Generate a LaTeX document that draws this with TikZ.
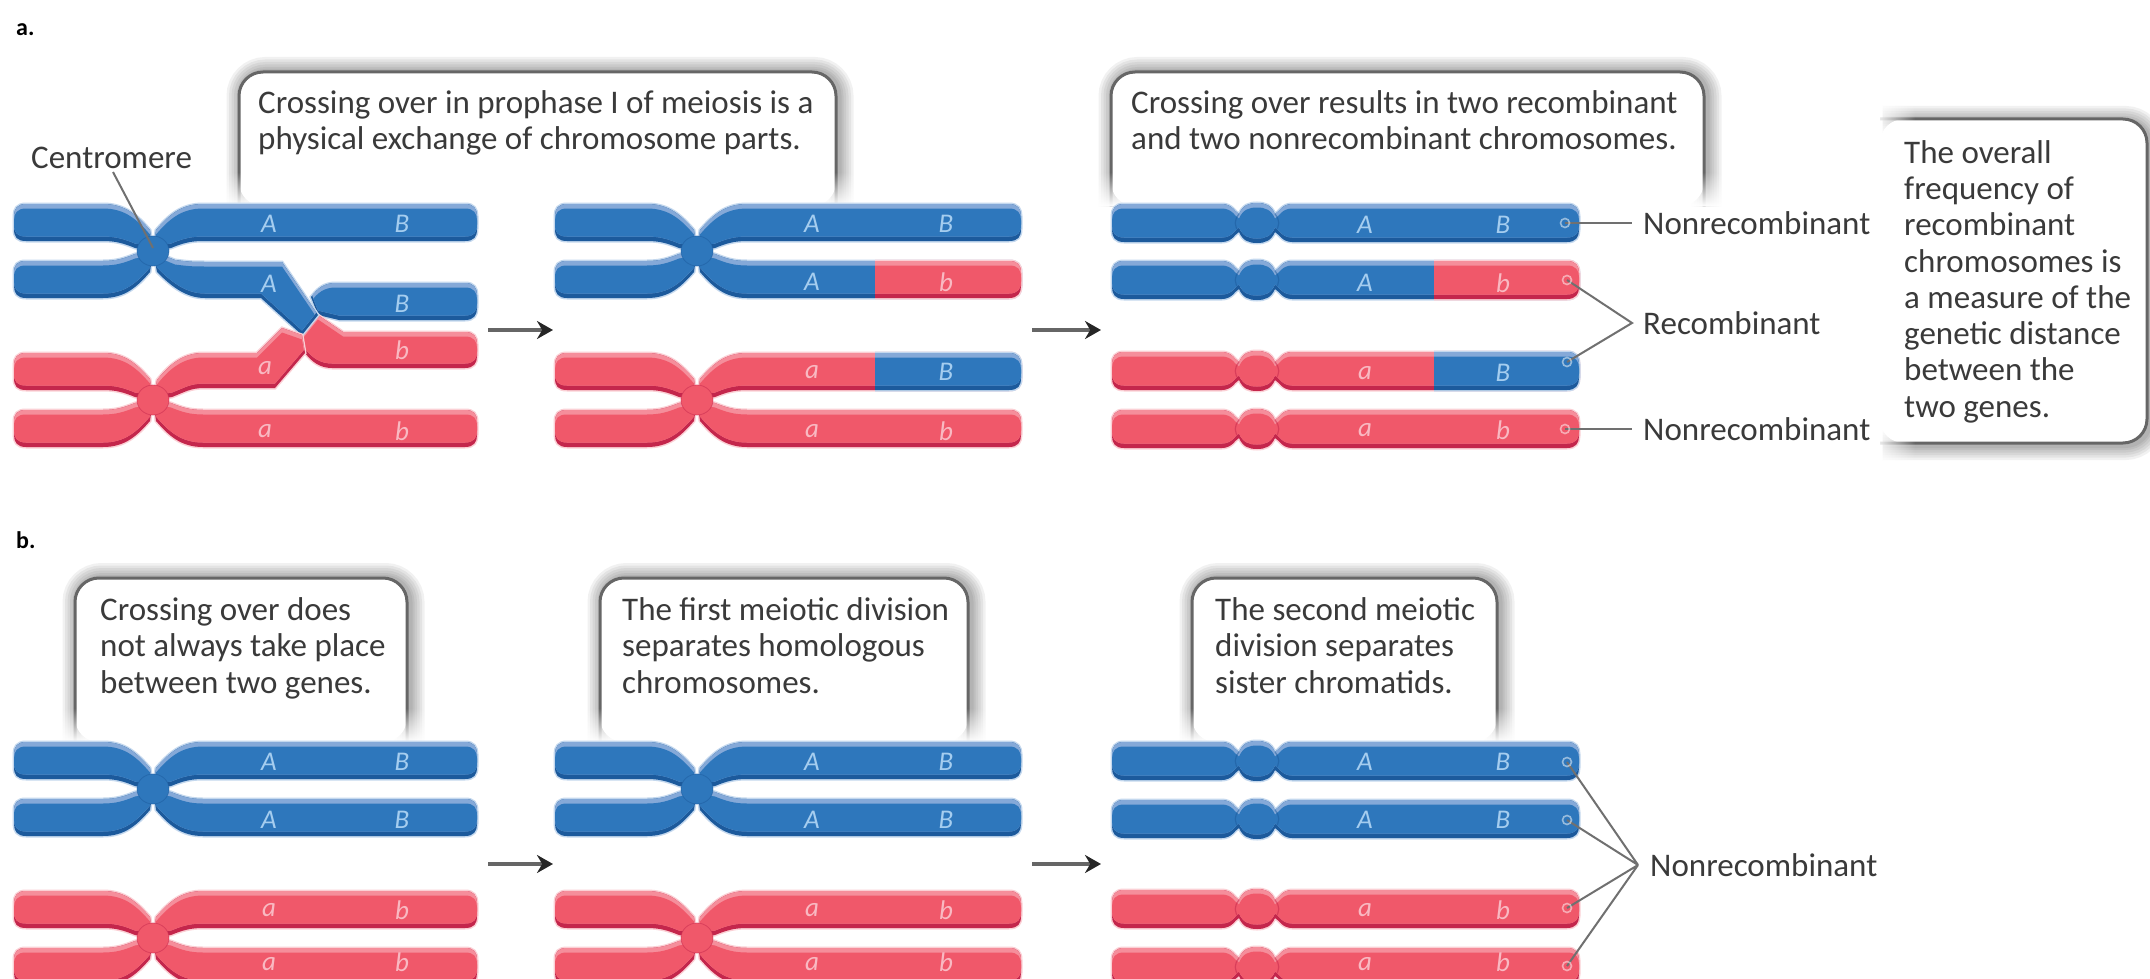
\documentclass[tikz,border=0pt]{standalone}
\usepackage{fontspec}
\setmainfont{Carlito}
\usetikzlibrary{arrows.meta,fadings}
\definecolor{chromB}{HTML}{2E77BC}
\definecolor{chromBl}{HTML}{85A9D8}
\definecolor{chromBd}{HTML}{1C5A9C}
\definecolor{chromBh}{HTML}{C4D8EE}
\definecolor{chromR}{HTML}{F0586A}
\definecolor{chromRl}{HTML}{F58E9B}
\definecolor{chromRd}{HTML}{C4264C}
\definecolor{chromRh}{HTML}{FBD0D5}
\definecolor{labB}{HTML}{A5CDEF}
\definecolor{labR}{HTML}{F9B9C2}
\definecolor{inkc}{HTML}{3A3A3A}
\definecolor{boxline}{HTML}{666666}
\definecolor{leader}{HTML}{707070}

% Chromatid with a pale upper edge and a dark lower edge
\newcommand\banded[3]{%
  \draw[draw=#3h,line width=3pt,#1] #2;
  \begin{scope}
    \clip[#1] #2;
    \fill[#3d] (-100,-100) rectangle (2300,1100);
    \begin{scope}[yshift=4.5pt]
      \clip[#1] #2;
      \fill[#3l] (-100,-100) rectangle (2300,1100);
      \begin{scope}[yshift=-9pt]
        \fill[#3,#1] #2;
      \end{scope}
    \end{scope}
  \end{scope}}

% One arm of an X-shaped pair, in local coordinates around the centromere
\newcommand\armpath[1]{(0,0) -- (3,21) .. controls (16,36) and (28,47) .. (50,47)
  -- (#1-12,47) .. controls (#1-3,47) and (#1,42) .. (#1,35) -- (#1,22)
  .. controls (#1,14) and (#1-3,10) .. (#1-12,10) -- (50,10)
  .. controls (38,10) and (30,8) .. (18,3) -- cycle}

% Single condensed chromatid with a centromere bulge
\newcommand\rodpath[4]{(#3+12,#2) -- (#1-35,#2) .. controls (#1-25,#2) and (#1-22,#2+8) .. (#1-18,#2+10)
  .. controls (#1-14,#2+1) and (#1-8,#2-1) .. (#1,#2-1) .. controls (#1+8,#2-1) and (#1+14,#2+1) .. (#1+18,#2+10)
  .. controls (#1+22,#2+8) and (#1+25,#2) .. (#1+35,#2) -- (#4-12,#2)
  .. controls (#4-3,#2) and (#4,#2+5) .. (#4,#2+12) -- (#4,#2+26)
  .. controls (#4,#2+33) and (#4-3,#2+38) .. (#4-12,#2+38) -- (#1+35,#2+38)
  .. controls (#1+25,#2+38) and (#1+22,#2+30) .. (#1+18,#2+28)
  .. controls (#1+14,#2+37) and (#1+8,#2+39) .. (#1,#2+39) .. controls (#1-8,#2+39) and (#1-14,#2+37) .. (#1-18,#2+28)
  .. controls (#1-22,#2+30) and (#1-25,#2+38) .. (#1-35,#2+38) -- (#3+12,#2+38)
  .. controls (#3+3,#2+38) and (#3,#2+33) .. (#3,#2+26) -- (#3,#2+12)
  .. controls (#3,#2+5) and (#3+3,#2) .. (#3+12,#2) -- cycle}

\newcommand\armpiece[6]{\banded{shift={(#1,#2)},xscale=#3,yscale=#4}{\armpath{#5}}{#6}}

% Centromere of an X-shaped pair
\newcommand\kineto[3]{\fill[#3] (#1,#2) ellipse (16 and 15);
  \draw[#3d,line width=.8pt,opacity=.5] (#1,#2) ellipse (16 and 15);}

% X-shaped pair of sister chromatids
\newcommand\xpair[4]{%
  \armpiece{#1}{#2}{-1}{-1}{#3}{#4}
  \armpiece{#1}{#2}{1}{-1}{324}{#4}
  \armpiece{#1}{#2}{-1}{1}{#3}{#4}
  \armpiece{#1}{#2}{1}{1}{324}{#4}
  \kineto{#1}{#2}{#4}}

\newcommand\rod[2]{\banded{}{\rodpath{1257}{#1}{1112}{1579}}{#2}
  \draw[#2d,line width=1.2pt,opacity=.5] (1239,#1+10) .. controls (1234,#1+16) and (1234,#1+22) .. (1239,#1+28)
    (1275,#1+10) .. controls (1280,#1+16) and (1280,#1+22) .. (1275,#1+28);}

% Frame open at the bottom, resting on the chromosomes below it
\newcommand\openbox[4]{%
  \foreach \w in {30,25,20,15,10,6}{\draw[black,opacity=.055,line width=\w pt,xshift=2.5pt,rounded corners=24pt]
     (#1,#4) -- (#1,#3) -- (#2,#3) -- (#2,#4);}
  \fill[white,rounded corners=24pt] (#1,#4) -- (#1,#3) -- (#2,#3) -- (#2,#4) -- cycle;
  \draw[frameline,rounded corners=24pt] (#1,#4) -- (#1,#3) -- (#2,#3) -- (#2,#4);
  \fill[white,path fading=north] (#1-26,#4-34) rectangle (#1+26,#4);
  \fill[white,path fading=north] (#2-26,#4-34) rectangle (#2+26,#4);}
\newcommand\dotat[1]{\draw[white,opacity=.5,line width=1.6pt] (#1) circle (4.5);}

\tikzset{
  genetext/.style={font=\fontsize{27}{27}\selectfont\itshape,inner sep=0pt},
  geneB/.style={genetext,text=labB},
  geneR/.style={genetext,text=labR},
  say/.style={font=\fontsize{33}{36.5}\selectfont,text=inkc,align=left,anchor=north west,inner sep=0pt},
  tag/.style={font=\fontsize{33}{36}\selectfont,text=inkc,anchor=west,inner sep=0pt},
  panel/.style={font=\fontsize{24}{24}\selectfont\bfseries,text=black,anchor=west,inner sep=0pt},
  leadline/.style={draw=leader,line width=2pt},
  flow/.style={draw=boxline,line width=3.5pt,-{Stealth[length=16pt,width=18pt,color=black!85]}},
  frameline/.style={draw=boxline,line width=3pt},
}

\begin{document}
\begin{tikzpicture}[x=1pt,y=-1pt]
\useasboundingbox (0,0) rectangle (2150,979);
\fill[white] (0,0) rectangle (2150,979);
\clip (0,0) rectangle (2150,979);

\node[panel] (pa) at (16,30) {a.};
\node[panel] (pb) at (16,540) {b.};

% callout frames
\openbox{239}{836}{72}{206}
\openbox{1111}{1704}{72}{206}
\openbox{75}{407}{578}{742}
\openbox{600}{968}{578}{742}
\openbox{1192}{1497}{578}{742}
% side note, open on its left edge
\foreach \w in {30,25,20,15,10,6}{\draw[black,opacity=.055,line width=\w pt,xshift=2.5pt,yshift=-2pt,rounded corners=24pt]
   (1880,119) -- (2147,119) -- (2147,443) -- (1880,443);}
\fill[white,rounded corners=24pt] (1880,119) -- (2147,119) -- (2147,443) -- (1880,443) -- cycle;
\draw[frameline,rounded corners=24pt] (1880,119) -- (2147,119) -- (2147,443) -- (1880,443);
\fill[white,path fading=east] (1874,90) rectangle (1915,480);

\node[say] (t1) at (258,90) {Crossing over in prophase I of meiosis is a\\physical exchange of chromosome parts.};
\node[say] (t2) at (1131,90) {Crossing over results in two recombinant\\and two nonrecombinant chromosomes.};
\node[say,font=\fontsize{33}{36.3}\selectfont] (t3) at (1904,140) {The overall\\frequency of\\recombinant\\chromosomes is\\a measure of the\\genetic distance\\between the\\two genes.};
\node[say] (t4) at (100,597) {Crossing over does\\not always take place\\between two genes.};
\node[say] (t5) at (622,597) {The first meiotic division\\separates homologous\\chromosomes.};
\node[say] (t6) at (1215,597) {The second meiotic\\division separates\\sister chromatids.};

% panel a, first stage: upper pair with the crossing arm
\armpiece{153}{251}{-1}{-1}{139}{chromB}
\armpiece{153}{251}{1}{-1}{324}{chromB}
\armpiece{153}{251}{-1}{1}{139}{chromB}
\banded{}{(311,297) .. controls (318,288) and (324,283) .. (336,283) -- (465,283)
  .. controls (474,283) and (477,288) .. (477,295) -- (477,308) .. controls (477,315) and (474,320) .. (465,320)
  -- (339,320) -- (318,315) -- cycle}{chromB}
\banded{}{(318,315) -- (343,332) -- (465,332) .. controls (474,332) and (477,337) .. (477,344) -- (477,356)
  .. controls (477,363) and (474,368) .. (465,368) -- (332,368) .. controls (320,368) and (312,362) .. (305,353)
  -- (302,335) -- cycle}{chromR}
\banded{}{(153,251) -- (175,260) .. controls (190,262) and (195,262) .. (205,262) -- (282,262)
  -- (318,315) -- (302,335) -- (261,298) -- (205,298) .. controls (185,298) and (170,285) .. (157,272) -- cycle}{chromB}
\kineto{153}{251}{chromB}
% panel a, first stage: lower pair with the crossing arm
\armpiece{153}{400}{-1}{-1}{139}{chromR}
\armpiece{153}{400}{-1}{1}{139}{chromR}
\armpiece{153}{400}{1}{1}{324}{chromR}
\banded{}{(153,400) -- (157,380) .. controls (168,366) and (182,353) .. (203,353) -- (257,353) -- (282,328)
  -- (302,335) -- (305,353) -- (275,388) -- (205,388) .. controls (190,388) and (185,392) .. (172,397) -- cycle}{chromR}
\kineto{153}{400}{chromR}

\node[geneB] (a1A) at (269,224) {A};
\node[geneB] (a1B) at (402,224) {B};
\node[geneB] (a2A) at (269,284) {A};
\node[geneB] (a2B) at (402,304) {B};
\node[geneR] (a3a) at (265,368) {a};
\node[geneR] (a3b) at (402,350) {b};
\node[geneR] (a4a) at (265,431) {a};
\node[geneR] (a4b) at (402,431) {b};

% panel a, second stage
\xpair{697}{251}{142}{chromB}
\begin{scope}
  \clip (875,240) rectangle (1040,310);
  \armpiece{697}{251}{1}{1}{324}{chromR}
\end{scope}
\xpair{697}{400}{142}{chromR}
\begin{scope}
  \clip (875,340) rectangle (1040,395);
  \armpiece{697}{400}{1}{-1}{324}{chromB}
\end{scope}
\node[geneB] (b1A) at (812,224) {A};
\node[geneB] (b1B) at (946,224) {B};
\node[geneB] (b2A) at (812,282) {A};
\node[geneR] (b2b) at (946,282) {b};
\node[geneR] (b3a) at (812,372) {a};
\node[geneB] (b3B) at (946,372) {B};
\node[geneR] (b4a) at (812,431) {a};
\node[geneR] (b4b) at (946,431) {b};

% panel a, third stage
\rod{204}{chromB}
\rod{261}{chromB}
\begin{scope}
  \clip (1434,240) rectangle (1600,310);
  \rod{261}{chromR}
\end{scope}
\rod{352}{chromR}
\begin{scope}
  \clip (1434,340) rectangle (1600,400);
  \rod{352}{chromB}
\end{scope}
\rod{410}{chromR}
\node[geneB] (c1A) at (1365,225) {A};
\node[geneB] (c1B) at (1503,225) {B};
\node[geneB] (c2A) at (1365,283) {A};
\node[geneR] (c2b) at (1503,283) {b};
\node[geneR] (c3a) at (1365,373) {a};
\node[geneB] (c3B) at (1503,373) {B};
\node[geneR] (c4a) at (1365,430) {a};
\node[geneR] (c4b) at (1503,430) {b};

% panel b
\xpair{153}{789}{139}{chromB}
\xpair{153}{938}{139}{chromR}
\xpair{697}{789}{142}{chromB}
\xpair{697}{938}{142}{chromR}
\rod{742}{chromB}
\rod{800}{chromB}
\rod{890}{chromR}
\rod{948}{chromR}
\foreach \c/\xa/\xb in {d/269/402,e/812/946,f/1365/1503}{
  \node[geneB] (\c1A) at (\xa,762) {A};
  \node[geneB] (\c1B) at (\xb,762) {B};
  \node[geneB] (\c2A) at (\xa,820) {A};
  \node[geneB] (\c2B) at (\xb,820) {B};
  \node[geneR] (\c3a) at (\xa,910) {a};
  \node[geneR] (\c3b) at (\xb,910) {b};
  \node[geneR] (\c4a) at (\xa,964) {a};
  \node[geneR] (\c4b) at (\xb,962) {b};
}

% labels and their leader lines
\node[tag] (cen) at (31,158) {Centromere};
\coordinate (cenFoot) at (113,172);
\coordinate (cenTip) at (153,248);
\draw[leadline] (cenFoot) -- (cenTip);
\node[tag] (n1) at (1643,223) {Nonrecombinant};
\node[tag] (r1) at (1643,323) {Recombinant};
\node[tag] (n2) at (1643,429) {Nonrecombinant};
\node[tag] (n3) at (1650,865) {Nonrecombinant};
\coordinate (e1) at (1565,223);
\coordinate (e2) at (1567,280);
\coordinate (e3) at (1567,362);
\coordinate (e4) at (1565,429);
\coordinate (rApex) at (1632,323);
\draw[leadline,shorten >=11pt] (e1) -- (n1.west);
\draw[leadline] (e2) -- (rApex) -- (e3);
\draw[leadline,shorten >=11pt] (e4) -- (n2.west);
\coordinate (f1) at (1567,762);
\coordinate (f2) at (1567,820);
\coordinate (f3) at (1567,908);
\coordinate (f4) at (1567,966);
\coordinate (fApex) at (1638,865);
\draw[leadline] (f1) -- (fApex) (f2) -- (fApex) (f3) -- (fApex) (f4) -- (fApex);
\foreach \p in {e1,e2,e3,e4,f1,f2,f3,f4}{\dotat{\p}}

% stage arrows
\coordinate (ar1s) at (488,330); \coordinate (ar1e) at (553,330);
\coordinate (ar2s) at (1032,330); \coordinate (ar2e) at (1101,330);
\coordinate (ar3s) at (488,864); \coordinate (ar3e) at (553,864);
\coordinate (ar4s) at (1032,864); \coordinate (ar4e) at (1101,864);
\draw[flow] (ar1s) -- (ar1e);
\draw[flow] (ar2s) -- (ar2e);
\draw[flow] (ar3s) -- (ar3e);
\draw[flow] (ar4s) -- (ar4e);
\end{tikzpicture}
\end{document}
